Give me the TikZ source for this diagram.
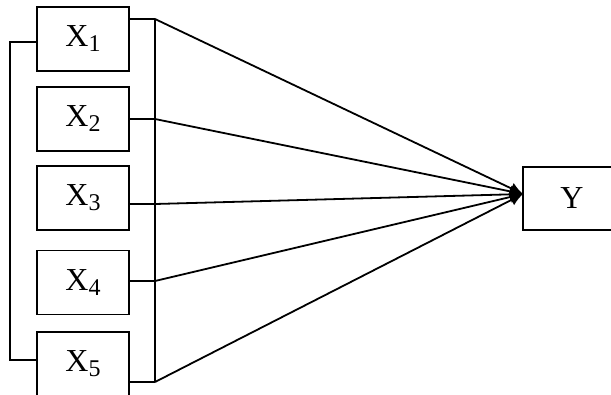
\documentclass[tikz,border=0pt]{standalone}
\usepackage{fontspec}
\setmainfont{Liberation Serif}
\usetikzlibrary{arrows.meta}
\newcommand{\varlabel}[1]{\fontsize{32}{32}\selectfont X\raisebox{-5pt}{\fontsize{24}{24}\selectfont #1}}
\begin{document}
\begin{tikzpicture}[x=1pt,y=-1pt,
  varbox/.style={draw,line width=1.8pt,minimum width=92pt,minimum height=64pt,inner sep=0pt},
  conn/.style={line width=1.8pt},
  arr/.style={line width=1.8pt,-{Latex[length=13pt,width=12pt]}}]
\useasboundingbox (0,0) rectangle (611,394);
\clip (0,0) rectangle (611,394);
\node[varbox] (x1) at (83,39) {\varlabel{1}};
\node[varbox] (x2) at (83,119) {\varlabel{2}};
\node[varbox] (x3) at (83,198) {\varlabel{3}};
\node[varbox] (x4) at (83,282.5) {\varlabel{4}};
\node[varbox] (x5) at (83,364) {\varlabel{5}};
\node[varbox,minimum width=98pt,minimum height=63pt] (y) at (572,198.5) {\fontsize{32}{32}\selectfont Y};
% junction points on the vertical line
\coordinate (j1) at (155,19);
\coordinate (j2) at (155,119);
\coordinate (j3) at (155,204);
\coordinate (j4) at (155,281);
\coordinate (j5) at (155,382);
\coordinate (tip) at (523,194);
% left bracket
\coordinate (b1) at (10,42);
\coordinate (b5) at (10,360);
\draw[conn] (x1.west |- b1) -- (b1) -- (b5) -- (x5.west |- b5);
% right vertical line
\draw[conn] (j1) -- (j5);
% connectors to Y
\draw[conn] (x1.east |- j1) -- (j1);
\draw[conn] (x2.east |- j2) -- (j2);
\draw[conn] (x3.east |- j3) -- (j3);
\draw[conn] (x4.east |- j4) -- (j4);
\draw[conn] (x5.east |- j5) -- (j5);
\draw[arr] (j1) -- (tip);
\draw[arr] (j2) -- (tip);
\draw[arr] (j3) -- (tip);
\draw[arr] (j4) -- (tip);
\draw[arr] (j5) -- (tip);
\end{tikzpicture}
\end{document}
